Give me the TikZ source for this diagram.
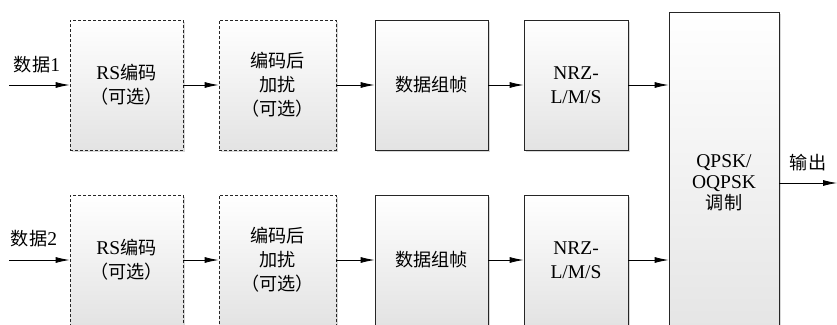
\documentclass[tikz,border=0pt]{standalone}
\usepackage{fontspec}
\setmainfont{Liberation Serif}
\newfontfamily\cjk[Scale=0.93]{Noto Sans CJK SC}
\usetikzlibrary{arrows.meta,shadows}
\begin{document}
\begin{tikzpicture}[x=1pt,y=-1pt,
  font=\fontsize{19.5}{24}\selectfont,
  box/.style={draw=black!85, line width=0.8pt, top color=white, bottom color=black!11,
    align=center, inner sep=0pt,
    drop shadow={shadow xshift=1.5pt, shadow yshift=-1.5pt, fill=black!30, opacity=0.5}},
  optbox/.style={box, dash pattern=on 3pt off 2pt},
  arr/.style={line width=0.8pt, -{Latex[length=14pt,width=6pt]}},
  lbl/.style={inner sep=0pt}]
\clip (0,0) rectangle (837,324);
\fill[white] (0,0) rectangle (837,324);

% row 1
\node[optbox, minimum width=113pt, minimum height=130pt] (rs1) at (126.5,85) {RS{\cjk 编码}\\{\cjk （可选）}};
\node[optbox, minimum width=117pt, minimum height=130pt] (sc1) at (277.5,85) {{\cjk 编码后}\\{\cjk 加扰}\\{\cjk （可选）}};
\node[box, minimum width=113pt, minimum height=130pt] (fr1) at (431.5,85) {{\cjk 数据组帧}};
\node[box, minimum width=104pt, minimum height=130pt] (nrz1) at (576,85) {NRZ-\\L/M/S};

% row 2
\node[optbox, minimum width=113pt, minimum height=130pt] (rs2) at (126.5,260) {RS{\cjk 编码}\\{\cjk （可选）}};
\node[optbox, minimum width=117pt, minimum height=130pt] (sc2) at (277.5,260) {{\cjk 编码后}\\{\cjk 加扰}\\{\cjk （可选）}};
\node[box, minimum width=113pt, minimum height=130pt] (fr2) at (431.5,260) {{\cjk 数据组帧}};
\node[box, minimum width=104pt, minimum height=130pt] (nrz2) at (576,260) {NRZ-\\L/M/S};

% modulator
\node[box, minimum width=110pt, minimum height=342pt, font=\fontsize{19.5}{21}\selectfont] (mod) at (724,183) {QPSK/\\OQPSK\\{\cjk 调制}};

% inputs
\coordinate (in1) at (9,85);
\coordinate (in2) at (9,260);
\node[lbl] (l1) at (37,65) {{\cjk 数据}1};
\node[lbl] (l2) at (34,239) {{\cjk 数据}2};

% output
\coordinate (out) at (837,183);
\node[lbl] (lo) at (808,163) {{\cjk 输出}};

\draw[arr] (in1) -- (rs1.west);
\draw[arr] (rs1) -- (sc1);
\draw[arr] (sc1) -- (fr1);
\draw[arr] (fr1) -- (nrz1);
\draw[arr] (nrz1.east) -- (mod.west |- nrz1.east);
\draw[arr] (in2) -- (rs2.west);
\draw[arr] (rs2) -- (sc2);
\draw[arr] (sc2) -- (fr2);
\draw[arr] (fr2) -- (nrz2);
\draw[arr] (nrz2.east) -- (mod.west |- nrz2.east);
\draw[arr] (mod.east |- out) -- (out);
\end{tikzpicture}
\end{document}
